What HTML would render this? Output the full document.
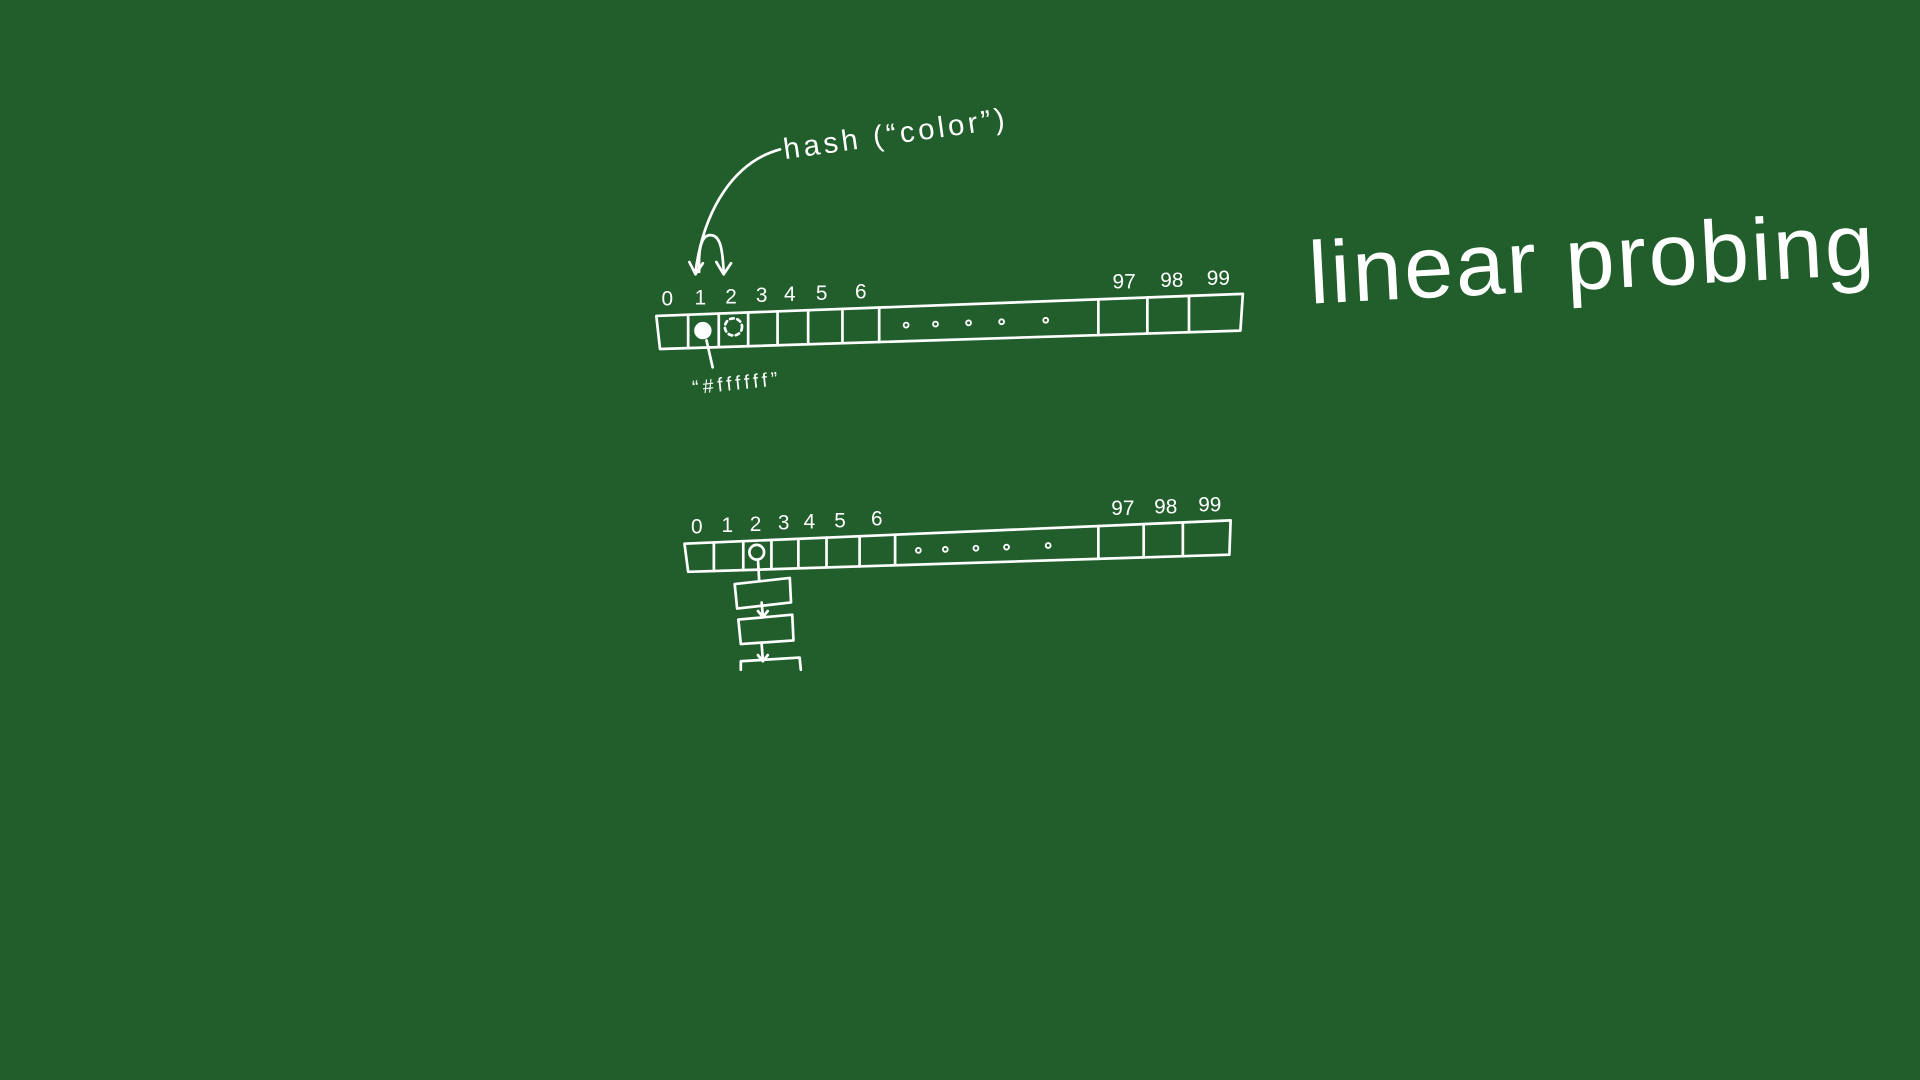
<!DOCTYPE html>
<html><head><meta charset="utf-8">
<style>
html,body{margin:0;padding:0;background:#225e2c;width:1920px;height:1080px;overflow:hidden}
svg{display:block}
text{font-family:"Liberation Sans",sans-serif;fill:#fff}
</style></head>
<body>
<svg width="1920" height="1080" viewBox="0 0 1568 882" fill="none" stroke="#fff" stroke-width="2.2" stroke-linecap="round" stroke-linejoin="round">
<rect x="0" y="0" width="1568" height="882" fill="#225e2c" stroke="none"/>

<text x="1070" y="248" font-size="72" stroke="none" textLength="462" lengthAdjust="spacing" transform="rotate(-3 1070 248)">linear probing</text>

<text x="641" y="130" font-size="24" stroke="none" textLength="182" lengthAdjust="spacing" transform="rotate(-8 641 130)">hash (“color”)</text>
<path d="M637 122 C600 132 575 170 568 222"/>
<path d="M563 214 L568 224 L574 215"/>
<path d="M571 222 C570 200 574 192 580 192 C588 192 590 202 591 222"/>
<path d="M585 214 L591 224 L597 215"/>

<g id="arr1">
<path d="M536 258 L1015 240 L1013 270 L539 285 Z"/>
</g>
<circle cx="574" cy="270" r="6" fill="#fff"/>
<circle cx="599" cy="267" r="7" stroke-dasharray="3 3"/>
<path d="M577 278 L582 300"/>
<text x="566" y="322" font-size="16" stroke="none" textLength="70" lengthAdjust="spacing" transform="rotate(-6 566 322)">“#ffffff”</text>

<g id="arr2">
<path d="M559 444 L1005 425 L1004 453 L562 467 Z"/>
</g>
<circle cx="618" cy="451" r="6"/>
<path d="M619 457 L620 474"/>
<path d="M600 477 L645 472 L646 492 L602 497 Z"/>
<path d="M622 492 L623 503 M619 499 L623 504 L627 499"/>
<path d="M603 506 L647 502 L648 523 L605 526 Z"/>
<path d="M622 526 L623 539 M619 535 L623 540 L627 535"/>
<path d="M605 547 L605 540 L653 537 L654 547"/>
</svg>
<script>
const topLabels = ["0","1","2","3","4","5","6","97","98","99"];
const topDividers = [562,587,611,635,660,688,718,897,937,971];
const topLabelX = [545,572,597,622,645,671,703,918,957,995];
const botLabels = ["0","1","2","3","4","5","6","97","98","99"];
const botDividers = [583,607,630,652,675,702,731,897,934,966];
const botLabelX = [569,594,617,640,661,686,716,917,952,988];
const topDots = [740,764,791,818,854];
const botDots = [750,772,797,822,856];
const NS = "http://www.w3.org/2000/svg";
function drawArray(g, x0t,y0t,x1t,y1t,x0b,y0b,x1b,y1b,dividers,labels,labelX,dots,prefix){
  const yt = x => y0t + (y1t-y0t)*(x-x0t)/(x1t-x0t);
  const yb = x => y0b + (y1b-y0b)*(x-x0b)/(x1b-x0b);
  dividers.forEach((x,i)=>{
    const l = document.createElementNS(NS,"line");
    l.setAttribute("x1",x);l.setAttribute("y1",yt(x));
    l.setAttribute("x2",x);l.setAttribute("y2",yb(x));
    
    
    g.appendChild(l);
  });
  labels.forEach((t,i)=>{
    const x = labelX[i];
    const tx = document.createElementNS(NS,"text");
    tx.setAttribute("x",x);tx.setAttribute("y",yt(x)-8);
    tx.setAttribute("font-size","17");tx.setAttribute("stroke","none");
    tx.setAttribute("text-anchor","middle");
    tx.textContent = t;
    
    
    g.appendChild(tx);
  });
  dots.forEach(x=>{
    const c = document.createElementNS(NS,"circle");
    c.setAttribute("cx",x);c.setAttribute("cy",(yt(x)+yb(x))/2+1);c.setAttribute("r","2");
    c.setAttribute("stroke-width","1.5");
    
    
    g.appendChild(c);
  });
}
drawArray(document.getElementById("arr1"),536,258,1015,240,539,285,1013,270,topDividers,topLabels,topLabelX,topDots,"top");
drawArray(document.getElementById("arr2"),559,444,1005,425,562,467,1004,453,botDividers,botLabels,botLabelX,botDots,"bottom");
</script>
</body></html>
